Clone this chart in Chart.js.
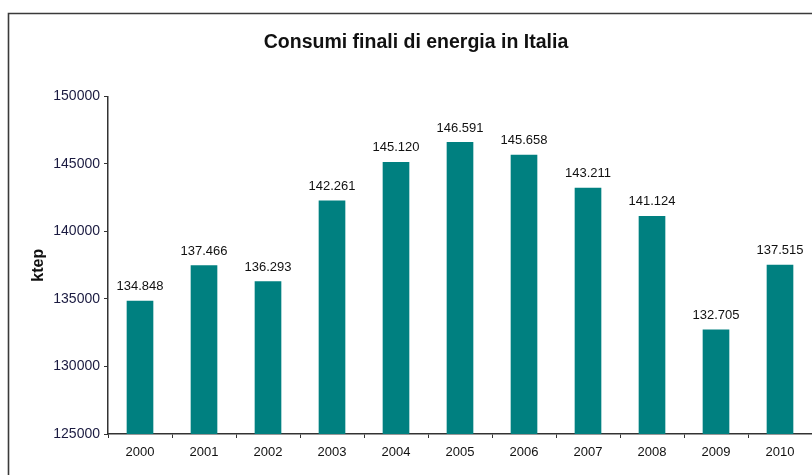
<!DOCTYPE html>
<html>
<head>
<meta charset="utf-8">
<script src="https://cdn.jsdelivr.net/npm/chart.js@4"></script>
<style>
  html, body { margin: 0; padding: 0; background: #fff; }
  #wrap { width: 812px; height: 475px; position: relative; }
</style>
</head>
<body>
<div id="wrap"><canvas id="chart-bar"></canvas></div>
<script>
const years = ['2000', '2001', '2002', '2003', '2004', '2005', '2006', '2007', '2008', '2009', '2010'];
const consumi = [134848, 137466, 136293, 142261, 145120, 146591, 145658, 143211, 141124, 132705, 137515];
const yMin = 125000;
const yMax = 150000;
const yStep = 5000;

function formatIt(v) {
    return String(v).replace(/\B(?=(\d{3})+(?!\d))/g, '.');
}

// outer frame, only left and top edge visible
const framePlugin = {
    id: 'frame',
    beforeDraw(chart) {
        const ctx = chart.ctx;
        ctx.save();
        ctx.strokeStyle = '#3a3a3a';
        ctx.lineWidth = 1.6;
        ctx.beginPath();
        ctx.moveTo(8.5, 480);
        ctx.lineTo(8.5, 13.5);
        ctx.lineTo(820, 13.5);
        ctx.stroke();
        ctx.restore();
    }
};

// values above bars
const valueLabels = {
    id: 'valueLabels',
    afterDatasetsDraw(chart) {
        const ctx = chart.ctx;
        const meta = chart.getDatasetMeta(0);
        ctx.save();
        ctx.font = '13px "Liberation Sans", Arial, sans-serif';
        ctx.fillStyle = '#111';
        ctx.textAlign = 'center';
        ctx.textBaseline = 'bottom';
        meta.data.forEach((bar, i) => {
            ctx.fillText(formatIt(consumi[i]), bar.x, bar.y - 8);
        });
        ctx.restore();
    }
};

const ctx = document.getElementById('chart-bar');

new Chart(ctx, {
    type: 'bar',
    data: {
        labels: years,
        datasets: [
            {
                label: 'ktep',
                data: consumi,
                backgroundColor: '#008080',
                borderWidth: 0,
                barThickness: 26,
            },
        ],
    },
    options: {
        responsive: true,
        maintainAspectRatio: false,
        animation: false,
        layout: {
            padding: { left: 20, top: 22, right: 0, bottom: 0 },
        },
        plugins: {
            legend: { display: false },
            tooltip: { enabled: false },
            title: {
                display: true,
                text: 'Consumi finali di energia in Italia',
                color: '#111',
                font: { family: '"Liberation Sans", Arial, sans-serif', size: 19.5, weight: 'bold' },
                padding: { top: 9, bottom: 42 },
            },
        },
        scales: {
            x: {
                grid: {
                    offset: true,
                    drawOnChartArea: false,
                    drawTicks: true,
                    tickLength: 4,
                    color: '#333',
                },
                border: { color: '#333', width: 1.5 },
                ticks: {
                    color: '#111',
                    padding: 7,
                    font: { family: '"Liberation Sans", Arial, sans-serif', size: 13 },
                },
                afterFit(scale) { scale.height = 41; },
            },
            y: {
                min: yMin,
                max: yMax,
                grid: {
                    drawOnChartArea: false,
                    tickLength: 4,
                    color: '#333',
                },
                border: { color: '#333', width: 1.5 },
                ticks: {
                    stepSize: yStep,
                    color: '#1a1a40',
                    padding: 4,
                    font: { family: '"Liberation Sans", Arial, sans-serif', size: 14 },
                    callback: (v) => String(v),
                },
                title: {
                    display: true,
                    text: 'ktep',
                    color: '#111',
                    padding: { top: 9, bottom: 0 },
                    font: { family: '"Liberation Sans", Arial, sans-serif', size: 16, weight: 'bold' },
                },
                afterFit(scale) { scale.width = 88; },
            },
        },
    },
    plugins: [framePlugin, valueLabels],
});
</script>
</body>
</html>
